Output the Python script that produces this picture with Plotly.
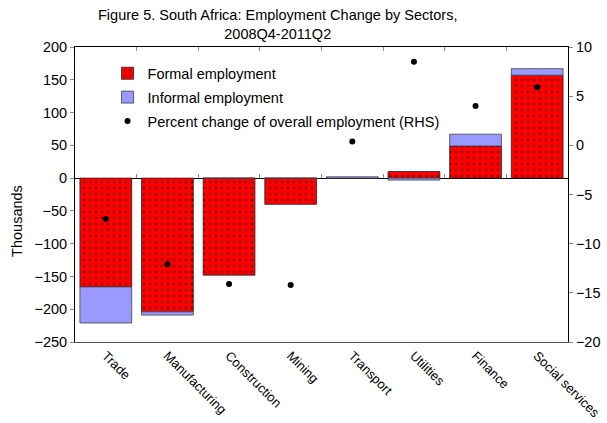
import plotly.graph_objects as go

sectors = ["Trade", "Manufacturing", "Construction", "Mining", "Transport",
           "Utilities", "Finance", "Social services"]
formal = [-166, -204, -148, -40, 0, 10, 49, 157]
informal = [-55, -5, 0, 0, 2, -3, 18, 10]
pct_change = [-7.5, -12.1, -14.1, -14.2, 0.4, 8.5, 4.0, 5.9]

left_ticks = [200, 150, 100, 50, 0, -50, -100, -150, -200, -250]
right_ticks = [10, 5, 0, -5, -10, -15, -20]
y_range = [-250, 200]
y2_range = [-20, 10]

FONT = "Liberation Sans, Arial, sans-serif"
FS = 14.5

fig = go.Figure()
fig.add_trace(go.Bar(
    x=sectors, y=formal, name="Formal employment", legendgroup="a",
    marker=dict(color="#FF0000", line=dict(color="#222222", width=0.8),
                pattern=dict(shape=".", fgcolor="black", bgcolor="#FF0000",
                             size=6, solidity=0.16, fillmode="overlay")),
    xaxis="x", yaxis="y"))
fig.add_trace(go.Bar(
    x=sectors, y=informal, name="Informal employment", legendgroup="b",
    marker=dict(color="#9999FF", line=dict(color="#444444", width=0.8)),
    xaxis="x", yaxis="y"))
fig.add_trace(go.Scatter(
    x=sectors, y=pct_change, mode="markers", legendgroup="c",
    name="Percent change of overall employment (RHS)",
    marker=dict(color="black", size=6),
    xaxis="x2", yaxis="y2"))
# invisible helper trace for the top-border tick axis
fig.add_trace(go.Scatter(
    x=sectors, y=[0] * len(sectors), mode="markers", opacity=0,
    showlegend=False, hoverinfo="skip", xaxis="x3", yaxis="y"))

zero_pos = (0 - y_range[0]) / (y_range[1] - y_range[0])
cat_common = dict(type="category", categoryorder="array", categoryarray=sectors,
                  range=[-0.5, len(sectors) - 0.5], automargin=False)

fig.update_layout(
    width=607, height=423,
    margin=dict(l=75, r=39, t=47, b=81, autoexpand=False),
    paper_bgcolor="white", plot_bgcolor="white",
    barmode="relative", bargap=0.16,
    font=dict(family=FONT, size=FS, color="black"),
    showlegend=True,
    legend=dict(x=0.066, y=0.965, xanchor="left", yanchor="top",
                bgcolor="rgba(0,0,0,0)", itemwidth=30,
                font=dict(family=FONT, size=FS, color="black"),
                tracegroupgap=2),
    xaxis=dict(**cat_common, showline=True, linecolor="#555555", linewidth=1,
               ticks="", tickangle=45, showgrid=False, zeroline=False,
               tickfont=dict(family=FONT, size=13)),
    xaxis2=dict(**cat_common, overlaying="x", anchor="free", position=zero_pos,
                side="bottom", showline=False, ticks="inside", tickson="boundaries",
                ticklen=4, tickcolor="#888888", showticklabels=False,
                showgrid=False, zeroline=False),
    xaxis3=dict(**cat_common, overlaying="x", anchor="y", side="top",
                showline=True, linecolor="black", linewidth=1,
                ticks="inside", tickson="boundaries", ticklen=4,
                tickcolor="#888888", showticklabels=False,
                showgrid=False, zeroline=False),
    yaxis=dict(range=y_range, tickvals=left_ticks, showline=True, automargin=False,
               linecolor="black", linewidth=1, ticks="outside", ticklen=4,
               tickcolor="#888888", showgrid=False, zeroline=True,
               zerolinecolor="black", zerolinewidth=1,
               tickfont=dict(family=FONT, size=FS)),
    yaxis2=dict(range=y2_range, tickvals=right_ticks, overlaying="y", automargin=False,
                side="right", anchor="x", showline=True, linecolor="black",
                linewidth=1, ticks="outside", ticklen=4, tickcolor="#888888",
                showgrid=False, zeroline=False,
                tickfont=dict(family=FONT, size=FS)),
    annotations=[
        dict(text="Figure 5. South Africa: Employment Change by Sectors,<br>2008Q4-2011Q2",
             xref="paper", yref="paper", x=(277 - 75) / 493, y=1.01,
             xanchor="center", yanchor="bottom", showarrow=False,
             font=dict(family=FONT, size=FS)),
        dict(text="Thousands", textangle=-90, xref="paper", yref="paper",
             x=-0.118, y=0.41, xanchor="center", yanchor="middle",
             showarrow=False, font=dict(family=FONT, size=FS)),
        dict(text="Percent", textangle=90, xref="paper", yref="paper",
             x=1.102, y=0.43, xanchor="left", yanchor="middle",
             showarrow=False, font=dict(family=FONT, size=FS)),
    ],
)

fig.write_html("out.html")
